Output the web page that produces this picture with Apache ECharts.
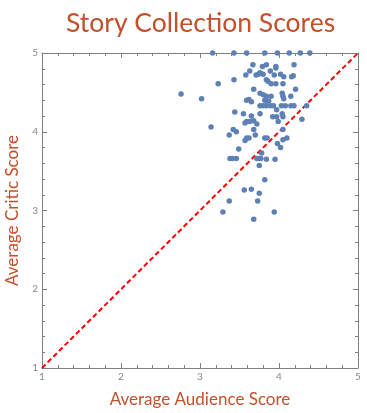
<!DOCTYPE html>
<html><head><meta charset="utf-8">
<script src="https://cdn.jsdelivr.net/npm/echarts@6/dist/echarts.min.js"></script>
<style>html,body{margin:0;padding:0;background:#fff}#c{width:367px;height:413px}</style>
</head><body><div id="c"></div>
<script>
var titleText = "Story Collection Scores";
var xName = "Average Audience Score";
var yName = "Average Critic Score";
var tickValues = [1, 2, 3, 4, 5];
var audience = [3.16,3.43,3.59,3.82,3.98,4.13,4.27,4.39,
3.67,3.79,3.84,3.96,3.96,4.19,3.63,3.58,3.71,3.74,3.76,3.80,3.89,3.94,4.02,4.06,4.16,4.18,
3.43,3.84,3.86,3.90,3.96,4.05,3.23,2.76,3.02,3.68,4.21,3.76,3.80,3.84,3.90,4.04,4.05,4.06,4.15,
3.59,3.62,3.65,3.82,3.84,3.87,3.76,3.80,3.84,3.89,3.93,4.03,4.08,4.15,4.19,4.35,3.97,
3.44,3.55,3.65,3.76,3.92,3.97,4.04,4.05,4.29,3.57,3.59,3.63,3.68,3.72,3.99,3.14,3.42,3.46,3.37,
3.68,4.05,3.70,3.59,3.62,3.57,3.82,3.85,4.05,4.10,3.49,3.98,4.02,
3.38,3.41,3.46,3.72,3.75,3.77,3.78,3.84,3.95,3.75,3.82,3.56,3.65,3.75,3.37,3.73,3.29,3.94,3.68];
var critic = [5,5,5,5,5,5,5,5,
4.85,4.83,4.85,4.83,4.81,4.85,4.77,4.72,4.72,4.73,4.75,4.73,4.77,4.72,4.73,4.70,4.70,4.71,
4.66,4.66,4.64,4.61,4.61,4.61,4.61,4.48,4.42,4.54,4.54,4.49,4.47,4.45,4.45,4.49,4.45,4.42,4.45,
4.40,4.41,4.38,4.40,4.39,4.39,4.33,4.33,4.33,4.33,4.33,4.33,4.33,4.33,4.33,4.33,4.28,
4.25,4.23,4.20,4.23,4.19,4.19,4.23,4.19,4.16,4.11,4.13,4.13,4.14,4.10,4.13,4.06,4.03,4.00,3.96,
4.03,4.03,3.96,3.92,3.92,3.89,3.92,3.92,3.90,3.92,3.78,3.85,3.80,
3.66,3.66,3.66,3.66,3.66,3.66,3.73,3.65,3.65,3.57,3.39,3.26,3.27,3.22,3.12,3.12,2.98,2.98,2.89];
var diagonal = [1, 5];

var points = audience.map(function (a, i) { return [a, critic[i]]; });
var diagData = diagonal.map(function (v) { return [v, v]; });

var axisGray = '#808080';
var orange = '#c2502a';
function mkX(pos, show) {
  return {
    type: 'value', min: 1, max: 5, interval: 1, position: pos,
    name: show ? xName : '', nameLocation: 'middle', nameGap: 23,
    nameTextStyle: {color: orange, fontFamily: 'Lato', fontSize: 17},
    axisLine: {show: true, onZero: false, lineStyle: {color: axisGray, width: 1}},
    axisTick: {show: true, inside: true, length: 5, lineStyle: {color: axisGray}},
    minorTick: {show: true, splitNumber: 5, length: 3, lineStyle: {color: axisGray}},
    axisLabel: {show: show, color: '#888', fontSize: 10, fontFamily: 'Lato', margin: 4,
      formatter: function (v) { return tickValues.indexOf(v) >= 0 ? String(v) : ''; }},
    splitLine: {show: false}
  };
}
function mkY(pos, show) {
  return {
    type: 'value', min: 1, max: 5, interval: 1, position: pos,
    name: show ? yName : '', nameLocation: 'middle', nameGap: 21,
    nameTextStyle: {color: orange, fontFamily: 'Lato', fontSize: 17},
    axisLine: {show: true, onZero: false, lineStyle: {color: axisGray, width: 1}},
    axisTick: {show: true, inside: true, length: 5, lineStyle: {color: axisGray}},
    minorTick: {show: true, splitNumber: 5, length: 3, lineStyle: {color: axisGray}},
    axisLabel: {show: show, color: '#888', fontSize: 10, fontFamily: 'Lato', margin: 4,
      formatter: function (v) { return tickValues.indexOf(v) >= 0 ? String(v) : ''; }},
    splitLine: {show: false}
  };
}
var chart = echarts.init(document.getElementById('c'), null, {renderer: 'canvas'});
chart.setOption({
  animation: false,
  backgroundColor: '#fff',
  title: {text: titleText, left: 61, top: 5,
    textStyle: {color: orange, fontFamily: 'Lato', fontWeight: 'normal', fontSize: 26.5}},
  grid: {left: 42, right: 9, top: 53, bottom: 45, containLabel: false, outerBoundsMode: 'none'},
  xAxis: [mkX('bottom', true), mkX('top', false)],
  yAxis: [mkY('left', true), mkY('right', false)],
  series: [
    {type: 'line', data: diagData, xAxisIndex: 0, yAxisIndex: 0, symbol: 'none',
      lineStyle: {color: '#ff0000', width: 2, type: [5, 3]}, z: 1},
    {type: 'scatter', data: points, xAxisIndex: 0, yAxisIndex: 0, symbolSize: 5.5,
      itemStyle: {color: '#5e81b5', opacity: 1}, z: 3}
  ]
});
</script></body></html>
